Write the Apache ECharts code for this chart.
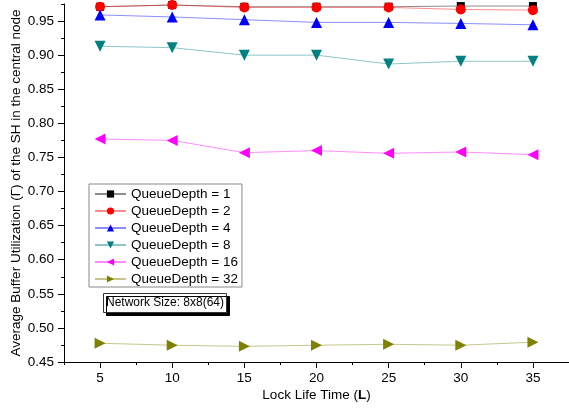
<!DOCTYPE html>
<html>
<head>
<meta charset="utf-8">
<script src="https://cdn.jsdelivr.net/npm/echarts@6/dist/echarts.min.js"></script>
<style>
html,body{margin:0;padding:0;background:#fff;}
#c{width:569px;height:408px;}
</style>
</head>
<body>
<div id="c"></div>
<script>
// ---- data ----
var lockTime = [5, 10, 15, 20, 25, 30, 35];
var qd1  = [0.971, 0.9735, 0.971, 0.971, 0.971, 0.972, 0.972];
var qd2  = [0.971, 0.9735, 0.970, 0.970, 0.970, 0.967, 0.966];
var qd4  = [0.959, 0.956, 0.952, 0.948, 0.948, 0.9465, 0.9445];
var qd8  = [0.913, 0.911, 0.900, 0.900, 0.887, 0.891, 0.891];
var qd16 = [0.777, 0.775, 0.757, 0.760, 0.756, 0.758, 0.754];
var qd32 = [0.4775, 0.4746, 0.473, 0.4746, 0.476, 0.4746, 0.479];
var seriesNames = ['QueueDepth = 1','QueueDepth = 2','QueueDepth = 4','QueueDepth = 8','QueueDepth = 16','QueueDepth = 32'];
var xTickLabels = ['', '5', '', '10', '', '15', '', '20', '', '25', '', '30', '', '35', ''];
var yTickLabels = ['0.45','','0.50','','0.55','','0.60','','0.65','','0.70','','0.75','','0.80','','0.85','','0.90','','0.95',''];

var FONT = '"Liberation Sans", Arial, sans-serif';
var allData = [qd1, qd2, qd4, qd8, qd16, qd32];
var colors = ['#000000', '#ff0000', '#0000ff', '#008080', '#ff00ff', '#808000'];
var symbols = ['rect', 'circle', 'triangle', 'triangle', 'triangle', 'triangle'];
var rotates = [0, 0, 0, 180, 90, -90];
var sizes = [8, 10, 11, 11, 11, 11];

var series = allData.map(function (arr, i) {
  return {
    name: seriesNames[i],
    type: 'line',
    xAxisIndex: 0,
    yAxisIndex: 0,
    data: lockTime.map(function (x, j) { return [x, arr[j]]; }),
    symbol: symbols[i],
    symbolRotate: rotates[i],
    symbolSize: sizes[i],
    showAllSymbol: true,
    itemStyle: { color: colors[i], opacity: 1 },
    lineStyle: { color: colors[i], width: 1, opacity: 0.45 },
    animation: false
  };
});

var oddIdx = function (i) { return i % 2 === 1; };
var evenIdx = function (i) { return i % 2 === 0; };

var chart = echarts.init(document.getElementById('c'), null, { renderer: 'canvas' });
chart.setOption({
  backgroundColor: '#ffffff',
  animation: false,
  textStyle: { fontFamily: FONT },
  grid: { left: 64, top: 4, right: 0, bottom: 46, containLabel: false },
  title: {
    text: 'Network Size: 8x8(64)',
    left: 103, top: 293,
    padding: [3, 3, 3, 3],
    backgroundColor: '#ffffff',
    borderColor: '#333333',
    borderWidth: 1,
    shadowColor: '#000000',
    shadowBlur: 0,
    shadowOffsetX: 3,
    shadowOffsetY: 3,
    textStyle: { fontFamily: FONT, fontSize: 12, fontWeight: 'normal', color: '#000', lineHeight: 14 }
  },
  legend: {
    orient: 'vertical',
    left: 89, top: 184,
    padding: [2, 4, 0, 5],
    itemWidth: 31, itemHeight: 9, itemGap: 1,
    borderColor: '#888888', borderWidth: 1,
    backgroundColor: '#ffffff',
    textStyle: { fontFamily: FONT, fontSize: 13.5, color: '#000', lineHeight: 16 },
    data: seriesNames
  },
  xAxis: [{
    type: 'value', min: 2.5, max: 37.5, interval: 2.5,
    axisLine: { show: true, lineStyle: { color: '#000', width: 1 } },
    axisTick: { show: true, length: 3, lineStyle: { color: '#000' } },
    axisLabel: { show: false },
    splitLine: { show: false },
    name: '{n|Lock Life Time (}{b|L}{n|)}',
    nameLocation: 'middle', nameGap: 26,
    nameTextStyle: { rich: {
      n: { fontFamily: FONT, fontSize: 13.5, color: '#000' },
      b: { fontFamily: FONT, fontSize: 13.5, color: '#000', fontWeight: 'bold' }
    } }
  }, {
    type: 'category', position: 'bottom', gridIndex: 0,
    data: xTickLabels.map(function (s, i) { return String(i); }),
    boundaryGap: false,
    axisLine: { show: false },
    axisTick: { show: true, length: 6, interval: function (i) { return oddIdx(i); }, lineStyle: { color: '#000' } },
    axisLabel: { show: true, interval: function (i) { return oddIdx(i); }, margin: 9,
      formatter: function (v, i) { return xTickLabels[i]; },
      fontFamily: FONT, fontSize: 13.5, color: '#000' },
    splitLine: { show: false }
  }],
  yAxis: [{
    type: 'value', min: 0.45, max: 0.975, interval: 0.025,
    axisLine: { show: true, lineStyle: { color: '#000', width: 1 } },
    axisTick: { show: true, length: 3, lineStyle: { color: '#000' } },
    axisLabel: { show: false },
    splitLine: { show: false },
    name: 'Average Buffer Utilization (Γ) of the SH in the central node',
    nameLocation: 'middle', nameGap: 41,
    nameTextStyle: { fontFamily: FONT, fontSize: 13.5, color: '#000' }
  }, {
    type: 'category', position: 'left', gridIndex: 0,
    data: yTickLabels.map(function (s, i) { return String(i); }),
    boundaryGap: false,
    axisLine: { show: false },
    axisTick: { show: true, length: 6, interval: function (i) { return evenIdx(i); }, lineStyle: { color: '#000' } },
    axisLabel: { show: true, interval: function (i) { return evenIdx(i); }, margin: 10,
      formatter: function (v, i) { return yTickLabels[i]; },
      fontFamily: FONT, fontSize: 13.5, color: '#000' },
    splitLine: { show: false }
  }],
  series: series
});
</script>
</body>
</html>
